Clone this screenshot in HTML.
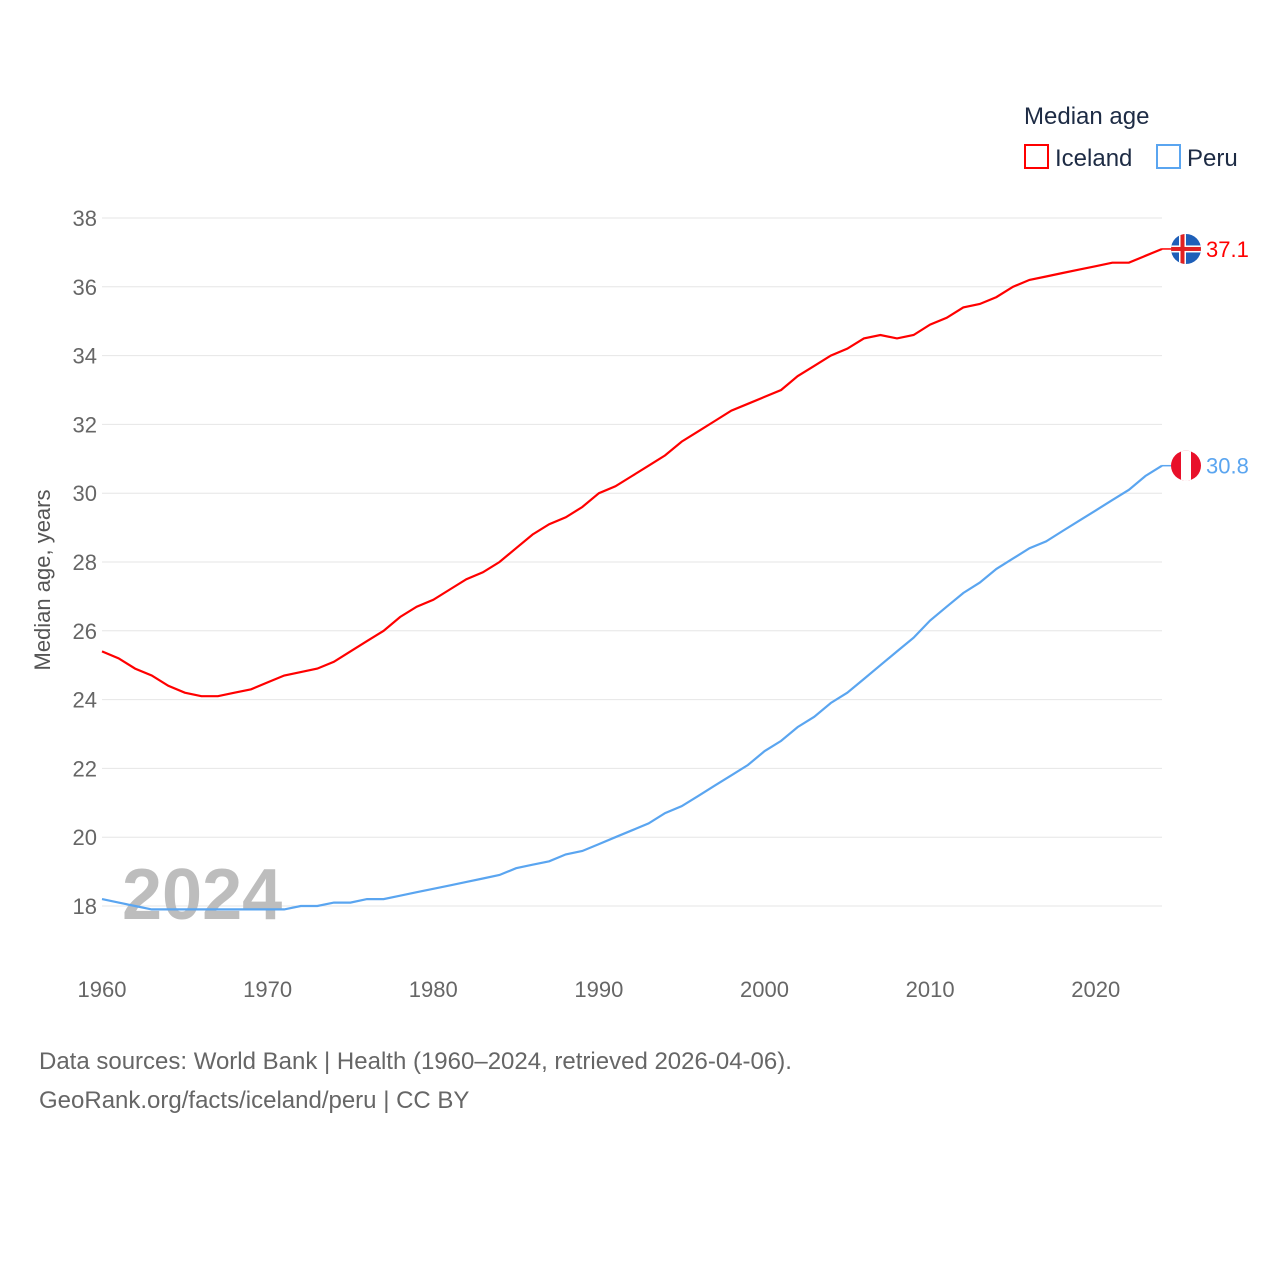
<!DOCTYPE html>
<html><head><meta charset="utf-8"><style>
body{margin:0;background:#fff;font-family:"Liberation Sans",sans-serif;}
svg text{font-family:"Liberation Sans",sans-serif;}
</style></head><body>
<svg id="chart" width="1280" height="1280" xmlns="http://www.w3.org/2000/svg">
<g id="grid"></g>
<g id="yticks"></g>
<g id="xticks"></g>
<text x="122" y="919" font-size="72" font-weight="bold" fill="#bdbdbd">2024</text>
<g id="lines"></g>
<text transform="translate(50,580) rotate(-90)" text-anchor="middle" font-size="22" fill="#555">Median age, years</text>
<text x="1024" y="124" font-size="24" fill="#1d2b44">Median age</text>
<g><rect x="1025" y="145" width="23" height="23" fill="none" stroke="#ff0000" stroke-width="2"/><text x="1055" y="166" font-size="24" fill="#1d2b44">Iceland</text></g>
<g><rect x="1157" y="145" width="23" height="23" fill="none" stroke="#5aa5f0" stroke-width="2"/><text x="1187" y="166" font-size="24" fill="#1d2b44">Peru</text></g>
<text x="39" y="1069" font-size="24" fill="#666">Data sources: World Bank | Health (1960–2024, retrieved 2026-04-06).</text>
<text x="39" y="1108" font-size="24" fill="#666">GeoRank.org/facts/iceland/peru | CC BY</text>
</svg>
<script>
const years=[];for(let y=1960;y<=2024;y++)years.push(y);
const iceland=[25.4,25.2,24.9,24.7,24.4,24.2,24.1,24.1,24.2,24.3,24.5,24.7,24.8,24.9,25.1,25.4,25.7,26.0,26.4,26.7,26.9,27.2,27.5,27.7,28.0,28.4,28.8,29.1,29.3,29.6,30.0,30.2,30.5,30.8,31.1,31.5,31.8,32.1,32.4,32.6,32.8,33.0,33.4,33.7,34.0,34.2,34.5,34.6,34.5,34.6,34.9,35.1,35.4,35.5,35.7,36.0,36.2,36.3,36.4,36.5,36.6,36.7,36.7,36.9,37.1];
const peru=[18.2,18.1,18.0,17.9,17.9,17.9,17.9,17.9,17.9,17.9,17.9,17.9,18.0,18.0,18.1,18.1,18.2,18.2,18.3,18.4,18.5,18.6,18.7,18.8,18.9,19.1,19.2,19.3,19.5,19.6,19.8,20.0,20.2,20.4,20.7,20.9,21.2,21.5,21.8,22.1,22.5,22.8,23.2,23.5,23.9,24.2,24.6,25.0,25.4,25.8,26.3,26.7,27.1,27.4,27.8,28.1,28.4,28.6,28.9,29.2,29.5,29.8,30.1,30.5,30.8];
const yTicks=[18,20,22,24,26,28,30,32,34,36,38];
const xTicks=[1960,1970,1980,1990,2000,2010,2020];
const NS="http://www.w3.org/2000/svg";
const X=y=>102+(y-1960)*(1162-102)/64;
const Y=v=>906-(v-18)*(906-218)/20;
function mk(t,a,p){const e=document.createElementNS(NS,t);for(const k in a)e.setAttribute(k,a[k]);p.appendChild(e);return e;}
const grid=document.getElementById('grid'),yt=document.getElementById('yticks'),xt=document.getElementById('xticks'),lines=document.getElementById('lines');
yTicks.forEach(v=>{
 const l=mk('line',{x1:102,x2:1162,y1:Y(v),y2:Y(v),stroke:'#e6e6e6','stroke-width':1},grid);
 
 
 const t=mk('text',{x:97,y:Y(v)+8,'text-anchor':'end','font-size':22,fill:'#666'},yt);t.textContent=v;
 
 
});
xTicks.forEach(v=>{
 const t=mk('text',{x:X(v),y:997,'text-anchor':'middle','font-size':22,fill:'#666'},xt);t.textContent=v;
 
 
});
function series(vals,color,name,flag){
 const d=vals.map((v,i)=>(i?'L':'M')+X(years[i]).toFixed(1)+','+Y(v).toFixed(1)).join('');
 const p=mk('path',{d:d,fill:'none',stroke:color,'stroke-width':2.2},lines);
 
 
 const last=vals[vals.length-1],cy=Y(last),cx=1186;
 const g=mk('g',{},lines);
 
 
 mk('line',{x1:1162,x2:1172,y1:cy,y2:cy,stroke:color,'stroke-width':1.5},g);
 const cp=mk('clipPath',{id:'c'+name},g);mk('circle',{cx:cx,cy:cy,r:15},cp);
 const gg=mk('g',{'clip-path':'url(#c'+name+')'},g);
 if(flag==='is'){
  mk('rect',{x:cx-15,y:cy-15,width:30,height:30,fill:'#1e5fb8'},gg);
  mk('rect',{x:cx-7,y:cy-15,width:7,height:30,fill:'#fff'},gg);
  mk('rect',{x:cx-15,y:cy-3.5,width:30,height:7,fill:'#fff'},gg);
  mk('rect',{x:cx-5.5,y:cy-15,width:4,height:30,fill:'#e02020'},gg);
  mk('rect',{x:cx-15,y:cy-2,width:30,height:4,fill:'#e02020'},gg);
 }else{
  mk('rect',{x:cx-15,y:cy-15,width:30,height:30,fill:'#e8102a'},gg);
  mk('rect',{x:cx-5,y:cy-15,width:10,height:30,fill:'#fff'},gg);
 }
 const t=mk('text',{x:1206,y:cy+8,'font-size':22,fill:color},lines);t.textContent=last.toFixed(1);
 
 
}
series(peru,'#5aa5f0','peru','pe');
series(iceland,'#ff0000','iceland','is');
</script>
</body></html>
